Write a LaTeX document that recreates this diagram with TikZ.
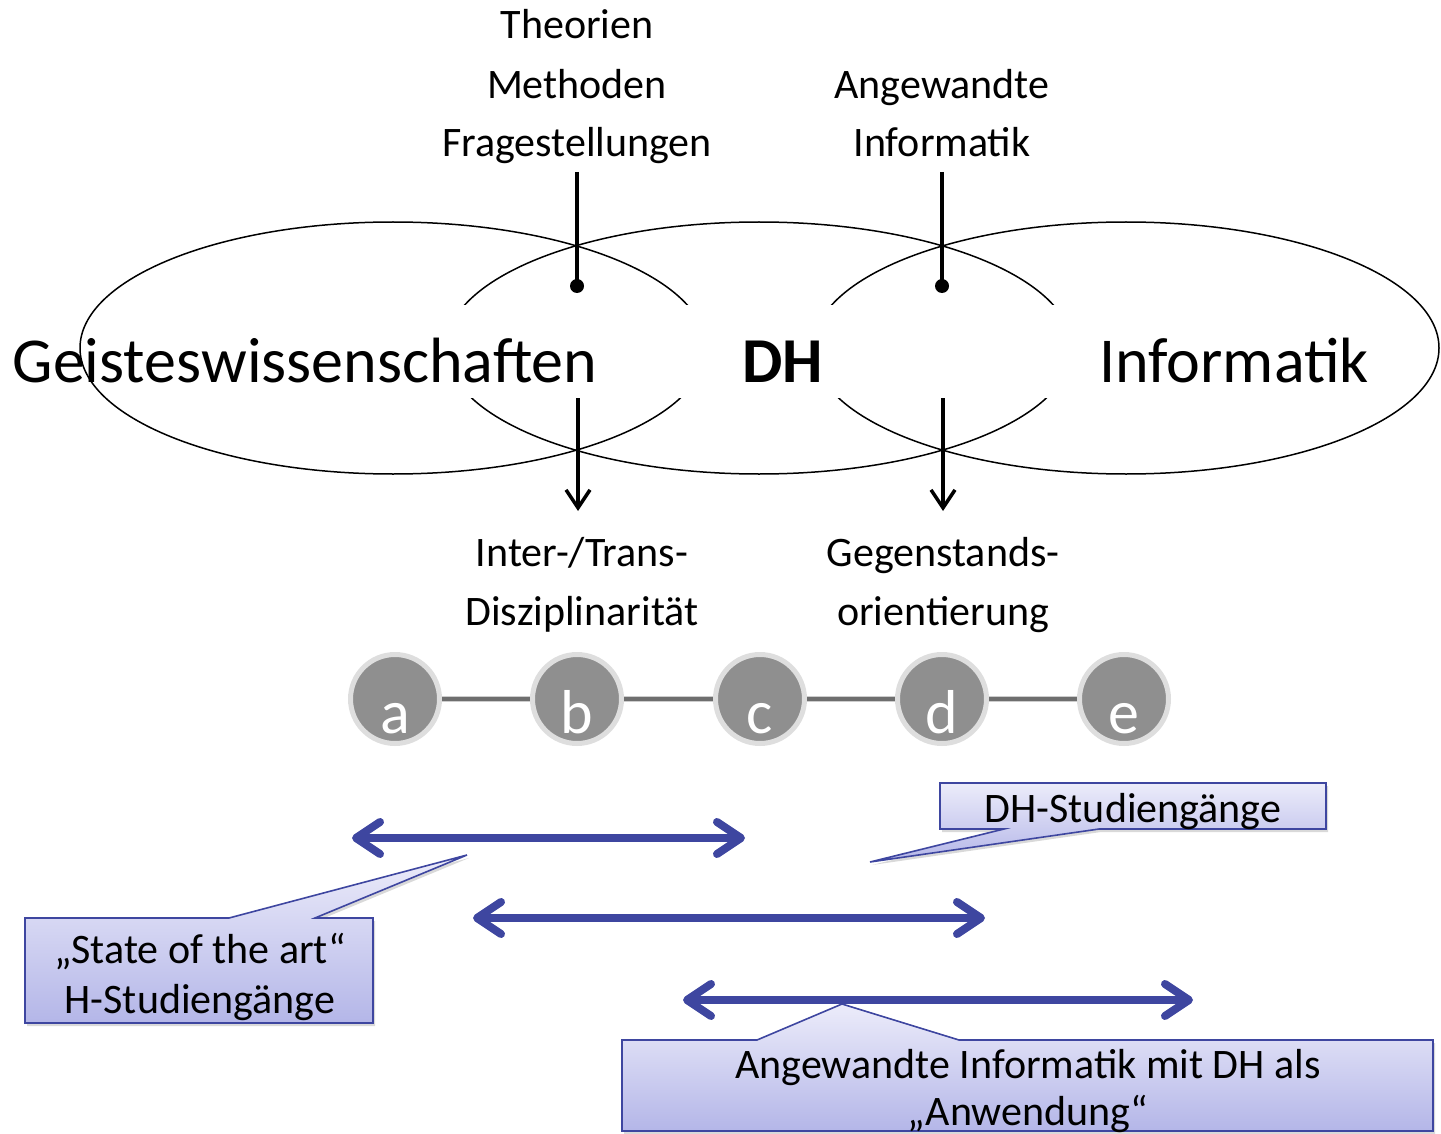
\documentclass[tikz,border=0pt]{standalone}
\usepackage{fontspec}
\setmainfont{Carlito}
\usetikzlibrary{arrows.meta,shadows}
\definecolor{arrblue}{RGB}{62,70,160}
\definecolor{cotop}{RGB}{236,236,250}
\definecolor{cobot}{RGB}{180,182,232}
\definecolor{ballfill}{RGB}{143,143,143}
\definecolor{ballrim}{RGB}{222,222,222}
\definecolor{linkdark}{RGB}{110,110,110}
\definecolor{linklight}{RGB}{205,205,205}
\tikzset{
  ell/.style={draw=black, line width=1.5pt},
  bigtxt/.style={font=\fontsize{64}{70}\selectfont, inner sep=0pt, anchor=base},
  midtxt/.style={font=\fontsize{42}{59}\selectfont, inner sep=0pt, anchor=base},
  stem/.style={draw=black, line width=3.5pt},
  stemarrow/.style={stem, -{Straight Barb[length=18pt,width=24pt]}},
  blackdot/.style={circle, fill=black, inner sep=0pt, minimum size=14pt},
  ball/.style={circle, fill=ballfill, draw=ballrim, line width=5pt, minimum size=89pt, inner sep=0pt},
  balltxt/.style={text=white, font=\fontsize{62}{62}\selectfont, inner sep=0pt, anchor=base},
  linkline/.style={draw=linklight, double=linkdark, double distance=4.5pt, line width=1pt},
  barrow/.style={draw=arrblue, line width=8pt, line cap=round,
    {Straight Barb[length=24pt,width=32pt,round]}-{Straight Barb[length=24pt,width=32pt,round]}},
  callout/.style={draw=arrblue, line width=1.6pt, top color=cotop, bottom color=cobot,
    drop shadow={opacity=0.3, shadow xshift=2pt, shadow yshift=-3pt}},
}
\begin{document}
\begin{tikzpicture}[x=1pt,y=-1pt]
\useasboundingbox (0,0) rectangle (1441,1134);

% --- three overlapping ellipses
\draw[ell] (393,348) ellipse [x radius=313, y radius=126];
\draw[ell] (759,348) ellipse [x radius=313, y radius=126];
\draw[ell] (1126,348) ellipse [x radius=313, y radius=126];
\fill[white] (438,305) rectangle (1080,398);

\node[bigtxt] (gw) at (305,382) {Geisteswissenschaften};
\node[bigtxt, font=\fontsize{64}{70}\selectfont\bfseries] (dh) at (783,382) {DH};
\node[bigtxt] (inf) at (1234,382) {Informatik};

% --- top labels
\node[midtxt] (theo) at (577,39) {Theorien};
\node[midtxt] (meth) at (577,99) {Methoden};
\node[midtxt] (frag) at (577,157) {Fragestellungen};
\node[midtxt] (angew) at (942,99) {Angewandte};
\node[midtxt] (ainf) at (942,157) {Informatik};

\coordinate (t1) at (577,172);
\coordinate (t2) at (942,172);
\node[blackdot] (d1) at (577,286) {};
\node[blackdot] (d2) at (942,286) {};
\draw[stem] (t1) -- (d1.center);
\draw[stem] (t2) -- (d2.center);

% --- bottom arrows and labels
\coordinate (s1) at (578,398);
\coordinate (e1) at (578,511);
\coordinate (s2) at (943,398);
\coordinate (e2) at (943,511);
\draw[stemarrow] (s1) -- (e1);
\draw[stemarrow] (s2) -- (e2);

\node[midtxt] (inter) at (582,566) {Inter-/Trans-};
\node[midtxt] (diszi) at (582,625) {Disziplinarität};
\node[midtxt] (gegen) at (943,566) {Gegenstands-};
\node[midtxt] (orien) at (943,625) {orientierung};

% --- scale a-e
\node[ball] (a) at (395,699) {};
\node[ball] (b) at (577,699) {};
\node[ball] (c) at (760,699) {};
\node[ball] (d) at (942,699) {};
\node[ball] (e) at (1124,699) {};
\draw[linkline] (a) -- (b);
\draw[linkline] (b) -- (c);
\draw[linkline] (c) -- (d);
\draw[linkline] (d) -- (e);
\node[balltxt] (la) at ([yshift=-34pt]a.center) {a};
\node[balltxt] (lb) at ([yshift=-34pt]b.center) {b};
\node[balltxt] (lc) at ([yshift=-34pt]c.center) {c};
\node[balltxt] (ld) at ([yshift=-34pt]d.center) {d};
\node[balltxt] (le) at ([yshift=-34pt]e.center) {e};

% --- blue double arrows
\coordinate (a1l) at (352,838);
\coordinate (a1r) at (745,838);
\coordinate (a2l) at (473,918);
\coordinate (a2r) at (985,918);
\coordinate (a3l) at (683,1000);
\coordinate (a3r) at (1193,1000);
\draw[barrow] (a1l) -- (a1r);
\draw[barrow] (a2l) -- (a2r);
\draw[barrow] (a3l) -- (a3r);

% --- callouts
\coordinate (p1) at (467,855);
\coordinate (p2) at (870,862);
\coordinate (p3) at (842,1004);
\path[callout] (25,918) -- (229,918) -- (p1) -- (315,918) -- (373,918) -- (373,1023) -- (25,1023) -- cycle;
\path[callout] (940,783) -- (1326,783) -- (1326,829) -- (1099,829) -- (p2) -- (1004,829) -- (940,829) -- cycle;
\path[callout] (622,1040) -- (757,1040) -- (p3) -- (959,1040) -- (1433,1040) -- (1433,1131) -- (622,1131) -- cycle;

\node[midtxt] (c1a) at (200,963) {„State of the art“};
\node[midtxt] (c1b) at (200,1013) {H-Studiengänge};
\node[midtxt] (c2) at (1133,822) {DH-Studiengänge};
\node[midtxt] (c3a) at (1028,1078) {Angewandte Informatik mit DH als};
\node[midtxt] (c3b) at (1028,1125) {„Anwendung“};
\end{tikzpicture}
\end{document}
